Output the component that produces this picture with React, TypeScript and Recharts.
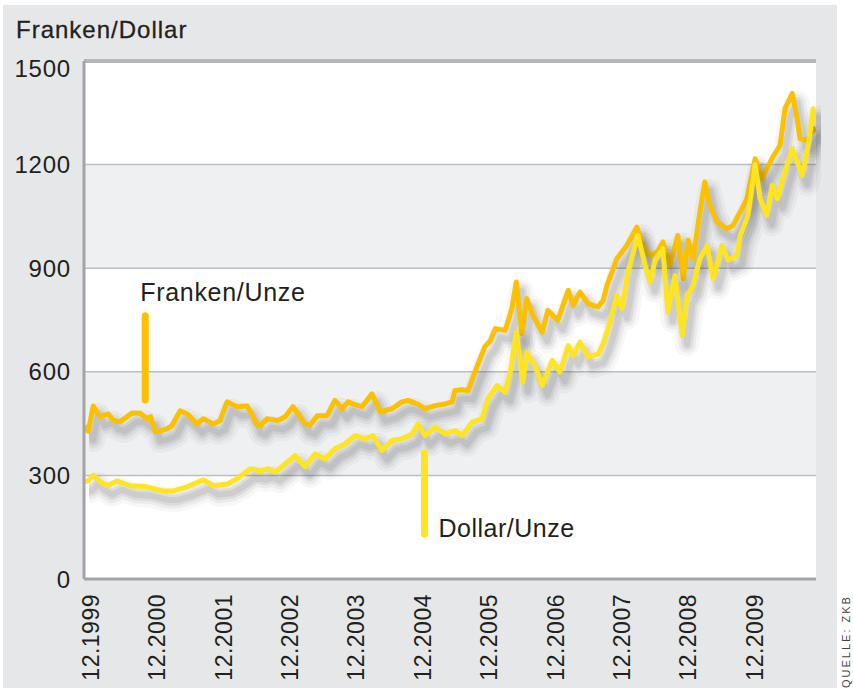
import { LineChart, Line, XAxis, YAxis, CartesianGrid, ReferenceLine } from 'recharts';

// month index: 0 = 12.1999, 12 = 12.2000, ...
const frankenMonths = [
  -1.2, -0.5, 0.4, 1.6, 3.1, 4, 5.2, 7.4, 8.9, 10.1, 10.8, 11.6, 12.8, 13.7, 14.6, 16.1, 17.4, 19.2, 20.3, 22.1,
  23.3, 24.6, 26.4, 28.2, 29.3, 29.8, 30.6, 31.8, 33.8, 35.1, 36.5, 37.4, 38.7, 39.6, 40.9, 42.7, 44.1, 45.4, 46.5, 47.7,
  49, 50.8, 52.3, 54.4, 56.2, 57.3, 59, 60.4, 62.2, 64, 65.3, 65.8, 67.1, 68.2, 69.4, 71.2, 72.2, 73.1, 74.9, 76.1,
  76.9, 77.9, 78.8, 79.9, 81.6, 82.6, 84.4, 86.3, 87.2, 88.4, 89.9, 91.7, 92.6, 93.3, 95.1, 96.9, 98.7, 99.8, 101.1, 102.4,
  103.4, 104.7, 106.1, 107.1, 108, 108.9, 110.1, 111, 111.9, 113.2, 115, 116.1, 117.4, 118.6, 120.1, 121.3, 122.2, 123.3, 124.6, 125.5,
  126.8, 127.7, 128.2, 129.5, 130.6, 131,
];
const frankenValues = [
  443, 428, 501, 470, 478, 460, 455, 481, 480, 464, 470, 426, 430, 435, 443, 487, 478, 449, 464, 449,
  458, 513, 499, 501, 472, 450, 443, 464, 459, 470, 499, 480, 449, 445, 473, 473, 517, 493, 513, 505,
  499, 536, 484, 493, 513, 517, 507, 493, 502, 507, 513, 546, 548, 546, 599, 672, 690, 725, 720, 783,
  860, 710, 812, 763, 715, 778, 749, 836, 792, 831, 797, 788, 807, 850, 928, 966, 1019, 966, 937, 947,
  976, 908, 995, 870, 981, 928, 1063, 1150, 1082, 1034, 1014, 1024, 1063, 1101, 1217, 1159, 1188, 1222, 1256, 1362,
  1406, 1333, 1275, 1270, 1304, 1294,
];

const dollarMonths = [
  -1.2, -0.5, 0.4, 1.6, 2.9, 4.7, 7.1, 10.1, 13, 14.8, 17.4, 20.3, 22.1, 24.6, 26.4, 28.8, 30.6, 32, 33.3, 35.1,
  36.9, 38.7, 40.5, 42.3, 44.1, 45.9, 47.7, 49.6, 51, 52.6, 54.4, 56.2, 58.1, 59.1, 60.4, 62.2, 64, 65.8, 67.1, 68.9,
  70.7, 71.8, 73.4, 74.9, 75.8, 76.9, 78.1, 78.8, 80.3, 81.6, 83.4, 84.8, 86.3, 87.2, 88.4, 89.9, 91.7, 92.6, 93.5, 95.1,
  96, 97.1, 98.9, 100.2, 101.1, 102, 103.4, 104.3, 105.6, 106.9, 107.8, 108.9, 110.1, 111.4, 112.5, 114.1, 115.2, 116.8, 117.4, 118.8,
  120.1, 121, 122.2, 123.2, 124.1, 125.1, 126.8, 127.7, 128.6, 129.7, 130.6, 131,
];
const dollarValues = [
  281, 285, 301, 283, 270, 284, 270, 267, 255, 255, 267, 287, 270, 275, 290, 319, 313, 319, 310, 333,
  357, 325, 362, 348, 377, 391, 415, 406, 415, 372, 401, 406, 420, 449, 415, 440, 420, 430, 415, 454,
  464, 522, 560, 541, 599, 715, 570, 657, 618, 560, 633, 599, 676, 647, 686, 643, 652, 681, 725, 821,
  783, 889, 995, 908, 860, 923, 957, 773, 879, 705, 821, 850, 928, 966, 870, 966, 923, 937, 995, 1053,
  1200, 1101, 1053, 1140, 1101, 1159, 1246, 1208, 1169, 1256, 1362, 1320,
];

const xTickMonths = [0, 12, 24, 36, 48, 60, 72, 84, 96, 108, 120];
const xTickLabels = ['12.1999', '12.2000', '12.2001', '12.2002', '12.2003', '12.2004', '12.2005', '12.2006', '12.2007', '12.2008', '12.2009'];
const yTicks = [0, 300, 600, 900, 1200, 1500];

const frankenData = frankenMonths.map((m, i) => ({ m, v: frankenValues[i] }));
const dollarData = dollarMonths.map((m, i) => ({ m, v: dollarValues[i] }));

const FONT = '"Liberation Sans", Arial, Helvetica, sans-serif';
const FRANKEN = '#fbc100';
const DOLLAR = '#ffe422';

// soft drop shadow faked with wide translucent strokes
const shadowLayers = [
  { w: 24, o: 0.04 },
  { w: 17, o: 0.06 },
  { w: 11, o: 0.08 },
  { w: 6, o: 0.09 },
];

const YTick = ({ x, y, payload }: any) => (
  <text x={x} y={y + (payload.value === 1500 ? 7 : 0)} textAnchor="end" dominantBaseline="central"
    fontFamily={FONT} fontSize={24} letterSpacing={0.8} fill="#231f20">
    {payload.value}
  </text>
);

const XTick = ({ x, y, payload }: any) => {
  const idx = xTickMonths.indexOf(payload.value);
  const ty = y + 15;
  return (
    <text x={x} y={ty} transform={`rotate(-90, ${x}, ${ty})`} textAnchor="end" dominantBaseline="central"
      fontFamily={FONT} fontSize={23} letterSpacing={0.5} fill="#231f20">
      {xTickLabels[idx]}
    </text>
  );
};

const shadowLines = (data: any[], key: string) =>
  shadowLayers.map((s, i) => (
    <Line key={`${key}-s${i}`} data={data} dataKey="v" type="linear" stroke="#333" strokeOpacity={s.o}
      strokeWidth={s.w} strokeLinejoin="round" strokeLinecap="round" dot={false} activeDot={false}
      transform="translate(5, 9)" isAnimationActive={false} />
  ));

export default function App() {
  return (
    <div style={{ position: 'absolute', left: 0, top: 0, width: 853, height: 691, background: '#fff', overflow: 'hidden' }}>
      <div style={{ position: 'absolute', left: 3, top: 5, width: 834, height: 683, background: '#e6e7e8' }} />
      <div style={{ position: 'absolute', left: 16, top: 17, fontFamily: FONT, fontSize: 24, letterSpacing: 1, color: '#231f20', lineHeight: '26px', WebkitTextStroke: '0.3px #231f20' }}>
        Franken/Dollar
      </div>
      <svg style={{ position: 'absolute', left: 0, top: 0 }} width={853} height={691}>
        <text x={850} y={688} transform="rotate(-90, 850, 688)" fontFamily={FONT} fontSize={11} letterSpacing={2} fill="#444">
          QUELLE: ZKB
        </text>
      </svg>
      <div style={{ position: 'absolute', left: 0, top: 0 }}>
        <LineChart width={853} height={691} margin={{ top: 61, right: 37, bottom: 0, left: 0 }}>
          <CartesianGrid vertical={false} stroke="#bcbec1" strokeWidth={1.5}
            horizontalFill={['#ffffff', '#eff0f1']} fillOpacity={1} />
          <XAxis type="number" dataKey="m" domain={[-1.27, 131.1]} ticks={xTickMonths} interval={0}
            height={112} tick={<XTick />} tickLine={false} tickSize={0} tickMargin={0}
            axisLine={{ stroke: '#a2a4a7', strokeWidth: 3 }} allowDataOverflow />
          <YAxis type="number" domain={[0, 1500]} ticks={yTicks} width={84} tick={<YTick />}
            tickLine={false} tickSize={0} tickMargin={13} axisLine={{ stroke: '#a2a4a7', strokeWidth: 3 }} />
          <ReferenceLine y={1500} stroke="#b4b6b9" strokeWidth={4} />
          {shadowLines(frankenData, 'fr')}
          <Line data={frankenData} dataKey="v" type="linear" stroke={FRANKEN} strokeWidth={5} dot={false}
            strokeLinejoin="round" isAnimationActive={false} />
          {shadowLines(dollarData, 'do')}
          <Line data={dollarData} dataKey="v" type="linear" stroke={DOLLAR} strokeWidth={5} dot={false}
            strokeLinejoin="round" isAnimationActive={false} />
          <ReferenceLine segment={[{ x: 9.8, y: 518 }, { x: 9.8, y: 762 }]} stroke={FRANKEN} strokeWidth={7}
            strokeLinecap="round"
            label={(p: any) => (
              <text x={p.viewBox.x - 5} y={p.viewBox.y - 15} fontFamily={FONT} fontSize={25} letterSpacing={0.7} fill="#231f20">
                Franken/Unze
              </text>
            )} />
          <ReferenceLine segment={[{ x: 60.3, y: 130 }, { x: 60.3, y: 365 }]} stroke={DOLLAR} strokeWidth={7}
            strokeLinecap="round"
            label={(p: any) => (
              <text x={p.viewBox.x + 14} y={p.viewBox.y + p.viewBox.height + 3} fontFamily={FONT} fontSize={25} letterSpacing={0.5} fill="#231f20">
                Dollar/Unze
              </text>
            )} />
        </LineChart>
      </div>
    </div>
  );
}
